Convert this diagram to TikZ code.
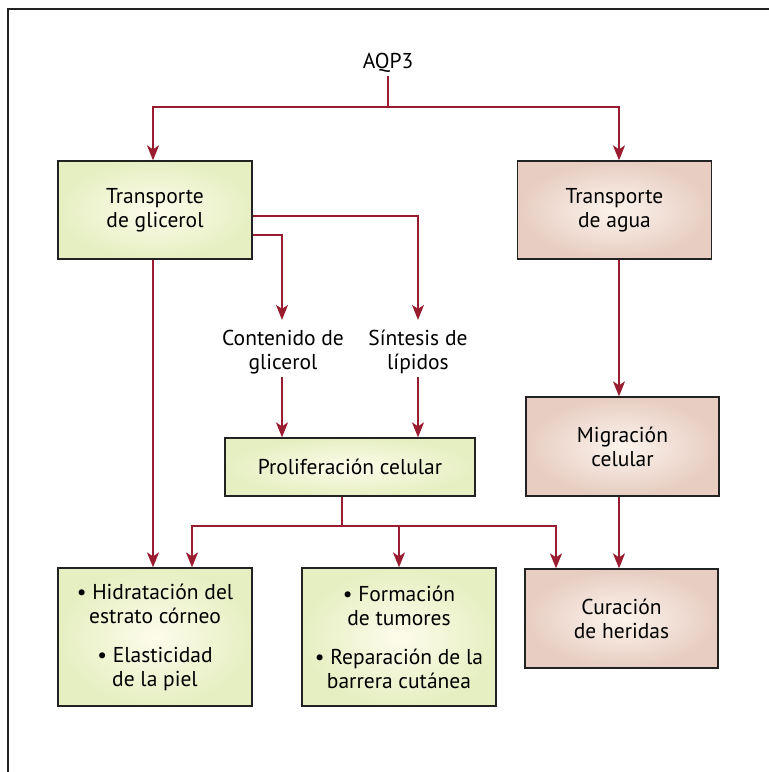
\documentclass[tikz,border=0pt]{standalone}
\usepackage{fontspec}
\setmainfont{PT Sans}
\usepackage{tikz}
\usetikzlibrary{positioning, arrows.meta}

\definecolor{linered}{HTML}{9A1C30}
\definecolor{greenout}{HTML}{E6EFC2}
\definecolor{greenin}{HTML}{FDFCEB}
\definecolor{pinkout}{HTML}{E7CDC2}
\definecolor{pinkin}{HTML}{FCF4EC}
\definecolor{framegray}{HTML}{222222}

\begin{document}
\begin{tikzpicture}[x=1pt, y=-1pt,
    font=\fontsize{21.5}{24}\selectfont,
    box/.style={draw=framegray, line width=1.3pt, inner sep=0pt, align=center, minimum width=194pt, minimum height=98pt},
    greenbox/.style={box, inner color=greenin, outer color=greenout},
    pinkbox/.style={box, inner color=pinkin, outer color=pinkout},
    label/.style={align=center, inner sep=3pt},
    link/.style={draw=linered, line width=1.2pt},
    arr/.style={link, -{Stealth[length=15pt, width=12pt, inset=4pt]}}]
    \useasboundingbox (0,0) rectangle (769,772);
    \draw [framegray, line width=1.3pt] (8,772) -- (8,9) -- (769,9);

    \node [label] (aqp) at (388, 63) {AQP3};
    \coordinate (split) at (388, 107);

    \node [greenbox] (glic) at (155, 210) {Transporte\\de glicerol};
    \node [pinkbox] (agua) at (614.5, 210) {Transporte\\de agua};

    \node [label] (cont) at (283, 352) {Contenido de\\glicerol};
    \node [label] (sint) at (418, 352) {Síntesis de\\lípidos};

    \node [greenbox, minimum width=250pt, minimum height=58pt] (prolif) at (350, 467) {Proliferación celular};
    \node [pinkbox, minimum width=193pt, minimum height=99pt] (migr) at (622.5, 446.5) {Migración\\celular};
    \coordinate (branch) at (342, 526);

    \node [greenbox, minimum height=138pt] (hidra) at (155, 637) {\textbullet\ Hidratación del\\estrato córneo\\[15pt]\textbullet\ Elasticidad\\de la piel};
    \node [greenbox, minimum height=138pt] (tumor) at (399, 637) {\textbullet\ Formación\\de tumores\\[15pt]\textbullet\ Reparación de la\\barrera cutánea};
    \node [pinkbox, minimum width=193pt, minimum height=99pt] (cura) at (621.5, 618.5) {Curación\\de heridas};

    \draw [link] (aqp) -- (split);
    \draw [arr] (split) -| ([xshift=-2pt]glic.north);
    \draw [arr] (split) -| ([xshift=4.5pt]agua.north);

    \draw [arr] ([yshift=-6pt]glic.east) -| ([yshift=7pt]sint.north);
    \draw [arr] ([yshift=-25pt]glic.east) -| ([xshift=-1pt, yshift=7pt]cont.north);
    \draw [arr] ([xshift=-1pt]cont.south) -- ([xshift=-1pt]cont.south |- prolif.north);
    \draw [arr] (sint) -- (sint |- prolif.north);
    \draw [arr] ([xshift=-2pt]glic.south) -- ([xshift=-2pt]glic.south |- hidra.north);

    \draw [link] (prolif.south -| branch) -- (branch);
    \draw [arr] (branch) -| ([xshift=37pt]hidra.north);
    \draw [arr] (branch) -| (tumor.north);
    \draw [arr] (branch) -| ([xshift=-65.5pt]cura.north);

    \draw [arr] ([xshift=4.5pt]agua.south) -- ([xshift=4.5pt]agua.south |- migr.north);
    \draw [arr] ([xshift=-3.5pt]migr.south) -- ([xshift=-3.5pt]migr.south |- cura.north);
\end{tikzpicture}
\end{document}
